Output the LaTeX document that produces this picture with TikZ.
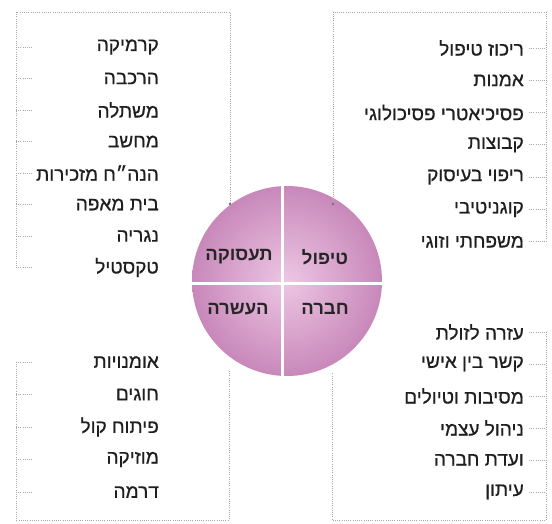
\documentclass[tikz,border=0pt]{standalone}
\usepackage{fontspec}
\newfontfamily\heb[Script=Hebrew]{Liberation Sans}
\newfontfamily\hebitem[Script=Hebrew,FakeBold=0.6]{Liberation Sans}
\TeXXeTstate=1
\definecolor{pinkLight}{HTML}{EDC6E3}
\definecolor{pinkDark}{HTML}{C888BA}
\definecolor{dotgray}{HTML}{A8A8A8}
\begin{document}
\begin{tikzpicture}[x=1pt,y=-1pt,
  item/.style={anchor=east,font=\hebitem\fontsize{19}{21}\selectfont,inner sep=0pt,text=black!88},
  quad/.style={font=\heb\bfseries\fontsize{18.5}{20}\selectfont,inner sep=0pt,text=black!85},
  dots/.style={draw=dotgray,line width=0.9pt,dash pattern=on 0.9pt off 1.3pt},
  enddot/.style={fill=black!55,draw=none}
]
\useasboundingbox (0,0) rectangle (552,524);
% circle
\shade[inner color=pinkLight,outer color=pinkDark] (287,281) circle (95pt);
\draw[white,line width=3pt] (282,180) -- (282,382);
\draw[white,line width=3pt] (186,283) -- (388,283);
% quadrant labels
\node[quad] (q1) at (325,257) {\beginR טיפול\endR};
\node[quad] (q2) at (239,257) {\beginR תעסוקה\endR};
\node[quad] (q3) at (238,309) {\beginR העשרה\endR};
\node[quad] (q4) at (325,309) {\beginR חברה\endR};
% boxes
\coordinate (tlA) at (16,268); \coordinate (tlB) at (16,12); \coordinate (tlC) at (230,12); \coordinate (tlD) at (230,204);
\draw[dots] (tlA) -- (tlB) -- (tlC) -- (tlD);
\coordinate (trA) at (333,204); \coordinate (trB) at (333,12); \coordinate (trC) at (546,12); \coordinate (trD) at (546,242);
\draw[dots] (trA) -- (trB) -- (trC) -- (trD);
\coordinate (blA) at (16,362); \coordinate (blB) at (16,520); \coordinate (blC) at (229,520); \coordinate (blD) at (229,371);
\draw[dots] (blA) -- (blB) -- (blC) -- (blD);
\coordinate (brA) at (546,332); \coordinate (brB) at (546,520); \coordinate (brC) at (332,520); \coordinate (brD) at (332,372);
\draw[dots] (brA) -- (brB) -- (brC) -- (brD);
\fill[enddot] (tlD) circle (1.3pt);
\fill[enddot] (trA) circle (1.3pt);
% items top-left
\foreach \t/\y [count=\i] in {קרמיקה/47,הרכבה/78.5,משתלה/110,מחשב/141.5,הנה״ח מזכירות/173,בית מאפה/204.5,נגריה/236,טקסטיל/267.5}{
  \node[item] (tl\i) at (159,\y) {\beginR\t\endR};
  \draw[dots] (16,\y) -- (32,\y);
}
% items top-right
\foreach \t/\y [count=\i] in {ריכוז טיפול/48,אמנות/80.3,פסיכיאטרי פסיכולוגי/112.6,קבוצות/144.9,ריפוי בעיסוק/177.2,קוגניטיבי/209.5,משפחתי וזוגי/241.8}{
  \node[item] (tr\i) at (524,\y) {\beginR\t\endR};
  \draw[dots] (529,\y) -- (546,\y);
}
% items bottom-left
\foreach \t/\y [count=\i] in {אומנויות/362,חוגים/394.5,פיתוח קול/427,מוזיקה/459.5,דרמה/492}{
  \node[item] (bl\i) at (159,\y) {\beginR\t\endR};
  \draw[dots] (16,\y) -- (32,\y);
}
% items bottom-right
\foreach \t/\y [count=\i] in {עזרה לזולת/332,קשר בין אישי/364,מסיבות וטיולים/396,ניהול עצמי/428,ועדת חברה/460,עיתון/492}{
  \node[item] (br\i) at (524,\y) {\beginR\t\endR};
  \draw[dots] (529,\y) -- (546,\y);
}
\end{tikzpicture}
\end{document}
